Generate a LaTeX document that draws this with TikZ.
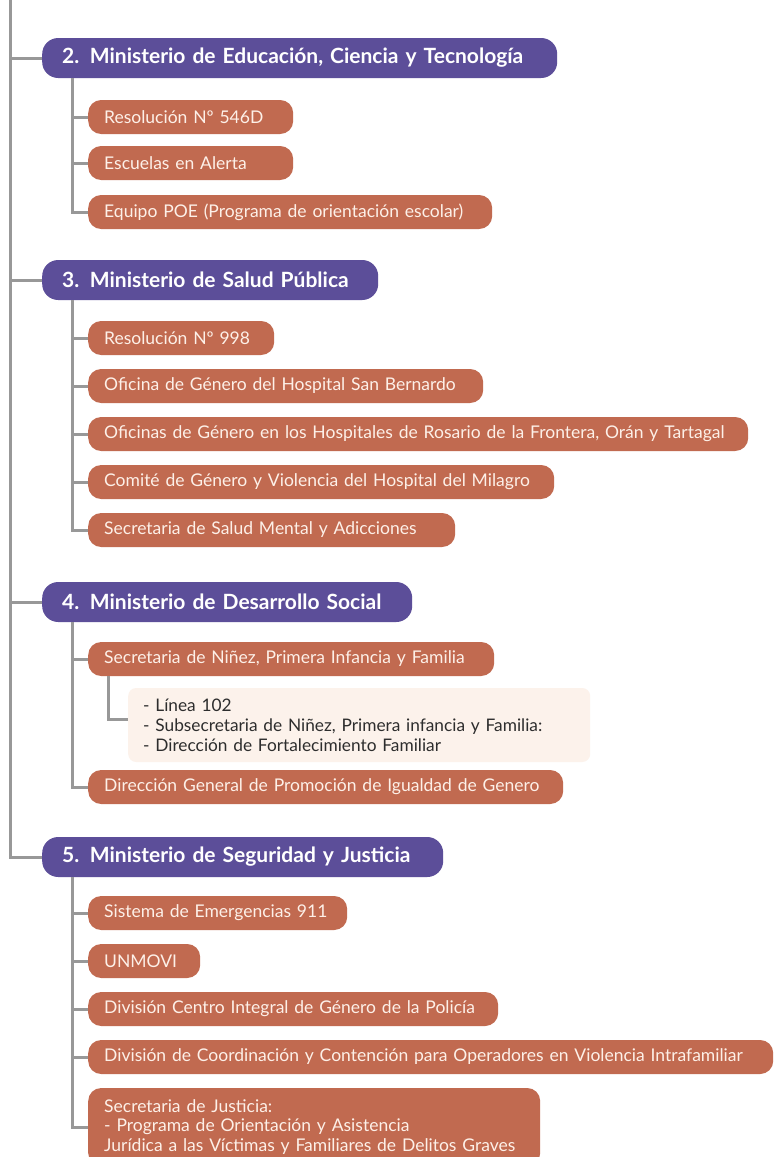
\documentclass[tikz,border=0pt]{standalone}
\usepackage{fontspec}
\usepackage{xcolor}
\setmainfont{Lato}
\usetikzlibrary{positioning}
\definecolor{morado}{RGB}{92,78,153}
\definecolor{ladrillo}{RGB}{193,106,80}
\definecolor{gris}{RGB}{152,152,152}
\definecolor{crema}{RGB}{252,242,235}
\definecolor{textoclaro}{RGB}{253,240,232}
\definecolor{textooscuro}{RGB}{45,45,45}
\tikzset{
  link/.style={draw=gris,line width=3pt},
  ministerio/.style={fill=morado,text=white,rounded corners=16pt,anchor=west,
    inner xsep=20pt,inner ysep=0pt,minimum height=40pt,text width=#1,align=left,
    font=\fontsize{21}{24}\selectfont\bfseries},
  item/.style={fill=ladrillo,text=textoclaro,rounded corners=13pt,anchor=west,
    inner xsep=16pt,inner ysep=0pt,minimum height=34pt,text width=#1,align=left,
    font=\fontsize{17.5}{19.5}\selectfont},
  detalle/.style={fill=crema,text=textooscuro,rounded corners=8pt,anchor=west,
    inner xsep=15pt,inner ysep=0pt,minimum height=74pt,text width=432pt,align=left,
    font=\fontsize{17.3}{20}\selectfont},
}

\begin{document}
\begin{tikzpicture}[x=1pt,y=-1pt]
  \useasboundingbox (0,0) rectangle (776,1157);
  \clip (0,0) rectangle (776,1157);
  \fill[white] (0,0) rectangle (776,1157);

  \node[ministerio=475pt] (m2) at (42,58) {2. Ministerio de Educación, Ciencia y Tecnología};
  \node[item=173pt] (m2a) at (88,117) {Resolución Nº 546D};
  \node[item=173pt] (m2b) at (88,163) {Escuelas en Alerta};
  \node[item=372pt] (m2c) at (88,212) {Equipo POE (Programa de orientación escolar)};

  \node[ministerio=296pt] (m3) at (42,280) {3. Ministerio de Salud Pública};
  \node[item=154pt] (m3a) at (88,338) {Resolución Nº 998};
  \node[item=363pt] (m3b) at (88,386) {Oficina de Género del Hospital San Bernardo};
  \node[item=628pt] (m3c) at (88,434) {Oficinas de Género en los Hospitales de Rosario de la Frontera, Orán y Tartagal};
  \node[item=434pt] (m3d) at (88,482) {Comité de Género y Violencia del Hospital del Milagro};
  \node[item=335pt] (m3e) at (88,530) {Secretaria de Salud Mental y Adicciones};

  \node[ministerio=330pt] (m4) at (42,602) {4. Ministerio de Desarrollo Social};
  \node[item=374pt] (m4a) at (88,659) {Secretaria de Niñez, Primera Infancia y Familia};
  \node[detalle] (m4a1) at (128,725) {- Línea 102\\- Subsecretaria de Niñez, Primera infancia y Familia:\\- Dirección de Fortalecimiento Familiar};
  \node[item=443pt] (m4b) at (88,787) {Dirección General de Promoción de Igualdad de Genero};

  \node[ministerio=361pt] (m5) at (42,857) {5. Ministerio de Seguridad y Justicia};
  \node[item=227pt] (m5a) at (88,913) {Sistema de Emergencias 911};
  \node[item=80pt] (m5b) at (88,961) {UNMOVI};
  \node[item=378pt] (m5c) at (88,1009) {División Centro Integral de Género de la Policía};
  \node[item=653pt] (m5d) at (88,1057) {División de Coordinación y Contención para Operadores en Violencia Intrafamiliar};
  \node[item=420pt,minimum height=78pt] (m5e) at (88,1127) {Secretaria de Justicia:\\- Programa de Orientación y Asistencia\\Jurídica a las Víctimas y Familiares de Delitos Graves};

  \coordinate (top) at (10,0);
  \coordinate (eje) at (72,0);
  \coordinate (eje4) at (108,0);
  \draw[link] (top) |- (m5.west);
  \foreach \m in {m2,m3,m4}
    \draw[link] (top |- \m.west) -- (\m.west);

  \draw[link] (m2.south -| eje) |- (m2c.west);
  \foreach \m in {m2a,m2b}
    \draw[link] (eje |- \m.west) -- (\m.west);

  \draw[link] (m3.south -| eje) |- (m3e.west);
  \foreach \m in {m3a,m3b,m3c,m3d}
    \draw[link] (eje |- \m.west) -- (\m.west);

  \draw[link] (m4.south -| eje) |- (m4b.west);
  \draw[link] (eje |- m4a.west) -- (m4a.west);
  \draw[link] (m4a.south -| eje4) |- ([yshift=6pt]m4a1.west);

  \draw[link] (m5.south -| eje) |- (m5e.west);
  \foreach \m in {m5a,m5b,m5c,m5d}
    \draw[link] (eje |- \m.west) -- (\m.west);
\end{tikzpicture}
\end{document}
